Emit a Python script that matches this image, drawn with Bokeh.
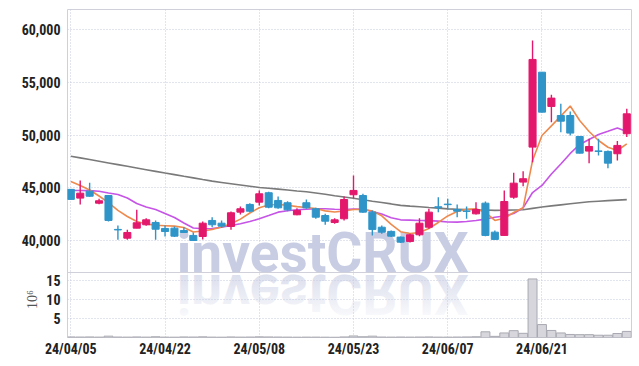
from urllib.parse import quote
from bokeh.plotting import figure
from bokeh.models import (Range1d, FixedTicker, ColumnDataSource, Grid, Span, LinearAxis)
from bokeh.core.properties import value
from bokeh.embed import file_html
from bokeh.resources import INLINE

dates = ["24/04/05", "24/04/08", "24/04/09", "24/04/11", "24/04/12", "24/04/15", "24/04/16", "24/04/17",
         "24/04/18", "24/04/19", "24/04/22", "24/04/23", "24/04/24", "24/04/25", "24/04/26", "24/04/29",
         "24/04/30", "24/05/02", "24/05/03", "24/05/07", "24/05/08", "24/05/09", "24/05/10", "24/05/13",
         "24/05/14", "24/05/16", "24/05/17", "24/05/20", "24/05/21", "24/05/22", "24/05/23", "24/05/24",
         "24/05/27", "24/05/28", "24/05/29", "24/05/30", "24/05/31", "24/06/03", "24/06/04", "24/06/05",
         "24/06/07", "24/06/10", "24/06/11", "24/06/12", "24/06/13", "24/06/14", "24/06/17", "24/06/18",
         "24/06/19", "24/06/20", "24/06/21", "24/06/24", "24/06/25", "24/06/26", "24/06/27", "24/06/28",
         "24/07/01", "24/07/02", "24/07/03", "24/07/04"]

opens = [44850, 44020, 44680, 43540, 44270, 41050, 40220, 41170, 41490, 41710,
         41140, 41170, 40950, 40480, 40380, 41900, 41640, 41330, 42690, 43420,
         43640, 44530, 43800, 43580, 42440, 43580, 43010, 42370, 41710, 42060,
         44340, 44270, 42690, 41260, 40860, 40320, 39910, 40540, 41260, 43200,
         43450, 42940, 42800, 42530, 43540, 40790, 40480, 44110, 45540, 48860,
         55970, 52720, 51860, 51860, 49870, 48480, 48500, 48450, 48230, 50130]
highs = [44870, 45690, 45480, 43960, 44300, 41420, 41020, 42910, 42120, 41900,
         41420, 41330, 41260, 40760, 41800, 42210, 41900, 42750, 43230, 43540,
         44750, 44620, 44180, 43730, 43070, 43890, 43100, 42530, 42120, 44180,
         46170, 44430, 42850, 41420, 40950, 40380, 40640, 42120, 43010, 44110,
         43960, 43420, 43230, 43640, 43700, 40950, 44750, 46430, 46580, 58980,
         56000, 53830, 52980, 52240, 49900, 49650, 49650, 48540, 49430, 52500]
lows = [43880, 43420, 44150, 43440, 41800, 40070, 40070, 41170, 41400, 40070,
        40380, 40320, 40700, 40000, 40100, 41260, 41200, 41020, 42470, 42690,
        43320, 43070, 43010, 42780, 42400, 43010, 42060, 41490, 41590, 41900,
        44000, 42630, 40480, 40640, 40320, 39750, 39810, 40410, 41110, 42690,
        42940, 42210, 42060, 42470, 40410, 40100, 40480, 43960, 45150, 47430,
        52150, 51230, 50280, 49970, 48260, 47340, 48070, 46860, 47590, 49810]
closes = [43900, 44490, 44200, 43770, 41900, 41000, 40760, 41680, 41960, 41070,
          40850, 40410, 40760, 40000, 41640, 41490, 41360, 42630, 43010, 42780,
          44430, 43160, 43100, 42910, 42850, 43100, 42210, 41830, 41960, 43890,
          44750, 42690, 41050, 40790, 40410, 39840, 40540, 41640, 42690, 43120,
          43400, 42780, 42760, 42940, 40480, 40100, 43700, 45440, 45860, 57180,
          52180, 53510, 51320, 50190, 48290, 48920, 48450, 47340, 49020, 52020]
volumes = [0.15, 0.12, 0.15, 0.10, 0.35, 0.12, 0.10, 0.15, 0.10, 0.20,
           0.10, 0.08, 0.15, 0.12, 0.18, 0.10, 0.08, 0.15, 0.10, 0.12,
           0.18, 0.15, 0.12, 0.10, 0.08, 0.10, 0.10, 0.08, 0.06, 0.15,
           0.40, 0.20, 0.35, 0.12, 0.10, 0.12, 0.10, 0.12, 0.15, 0.10,
           0.10, 0.12, 0.15, 0.20, 1.50, 0.30, 1.20, 1.80, 1.10, 15.4,
           3.40, 1.85, 1.20, 0.80, 0.75, 0.75, 0.60, 0.60, 1.05, 1.60]
ma5 = [45600, 45220, 44790, 44220, 43600, 42850, 42280, 41800, 41570, 41440,
       41400, 41360, 41230, 40800, 40900, 41040, 41280, 41580, 42030, 42610,
       43100, 43370, 43420, 43340, 43210, 43130, 43040, 42810, 42700, 42800,
       42940, 42960, 42800, 42340, 41520, 40830, 40660, 40760, 41140, 41710,
       42330, 42750, 42960, 43010, 42660, 41900, 42110, 42660, 43100, 47590,
       49960, 50880, 51800, 52760, 51390, 50340, 49490, 48850, 48540, 49160]
ma20 = [44745, 44745, 44730, 44670, 44510, 44370, 44030, 43510, 43180, 42940,
        42560, 42180, 41660, 41190, 41110, 41140, 41260, 41420, 41580, 41800,
        42060, 42370, 42690, 42820, 42910, 42970, 43010, 43010, 42960, 42940,
        42990, 42960, 42750, 42510, 42150, 41960, 41930, 41900, 41880, 41840,
        41760, 41740, 41800, 41900, 42030, 42210, 42330, 42560, 43100, 44550,
        45220, 46310, 47260, 48260, 49110, 49590, 50060, 50360, 50680, 50340]
ma120 = [48000, 47840, 47680, 47520, 47360, 47200, 47040, 46880, 46720, 46560,
         46400, 46250, 46090, 45940, 45780, 45630, 45510, 45390, 45270, 45150,
         45030, 44950, 44870, 44790, 44700, 44620, 44500, 44380, 44250, 44130,
         44000, 43870, 43730, 43600, 43470, 43330, 43260, 43200, 43130, 43070,
         43000, 42970, 42940, 42910, 42890, 42860, 42870, 42890, 42920, 43050,
         43180, 43280, 43380, 43480, 43580, 43680, 43730, 43780, 43830, 43880]
price_ticks = [40000, 45000, 50000, 55000, 60000]
vol_ticks = [5, 10, 15]
date_tick_idx = [0, 10, 20, 30, 40, 50]
watermark = "investCRUX"
vol_unit = "10⁶"

UP = "#e3186c"
DOWN = "#2f95c9"
GRID = "#c4c8dc"
OUTLINE = "#cfd0da"
WM = "#c8cde3"
TICK_FONT = "Roboto Condensed, DejaVu Sans Condensed, Roboto, sans-serif"

idx = list(range(len(dates)))
colors = [UP if c >= o else DOWN for o, c in zip(opens, closes)]
src = ColumnDataSource(dict(
    x=idx, open=opens, high=highs, low=lows, close=closes,
    top=[max(o, c) for o, c in zip(opens, closes)],
    bottom=[min(o, c) for o, c in zip(opens, closes)],
    color=colors, vol=volumes, ma5=ma5, ma20=ma20, ma120=ma120,
))

# one frame holding both panes: the price pane on top (36,960 .. 61,920),
# the volume pane below it (0 .. 17.1 million on its own range)
price_lo, price_hi = 30793, 61920
price_pane_bottom = 36960
vol_pane_top = 17.1
vol_hi = 86.29
x_range = Range1d(-0.35, 59.5)

p = figure(width=632, height=359, x_range=x_range, y_range=Range1d(price_lo, price_hi),
           output_backend="svg", toolbar_location=None,
           min_border_left=67, min_border_right=1, min_border_top=9, min_border_bottom=22)
p.extra_y_ranges = {"vol": Range1d(0, vol_hi)}
p.outline_line_color = OUTLINE
p.background_fill_color = "white"
p.border_fill_color = "white"

# left axis: price ticks for the upper pane, volume ticks for the lower pane
vol_to_price = (price_hi - price_lo) / vol_hi
vol_tick_pos = [int(round(price_lo + t * vol_to_price)) for t in vol_ticks]
p.yaxis.ticker = FixedTicker(ticks=price_ticks + vol_tick_pos)
overrides = {t: f"{t:,}" for t in price_ticks}
overrides.update({pos: str(t) for pos, t in zip(vol_tick_pos, vol_ticks)})
p.yaxis.major_label_overrides = overrides
for ax in (p.xaxis[0], p.yaxis[0]):
    ax.axis_line_color = None
    ax.major_tick_line_color = None
    ax.minor_tick_line_color = None
    ax.major_label_text_font = TICK_FONT
    ax.major_label_text_font_style = "bold"
    ax.major_label_text_font_size = "14px"
    ax.major_label_text_color = "#222222"
p.yaxis.major_label_standoff = 1
p.xaxis.ticker = FixedTicker(ticks=date_tick_idx)
p.xaxis.major_label_overrides = {i: dates[i] for i in date_tick_idx}
p.xaxis.major_tick_out = 0
p.xaxis.major_tick_in = 0
p.xaxis.major_label_standoff = 3

# unit label of the volume pane: a vertical label on an extra left axis,
# placed at the middle (10) of that pane's scale
unit_pos = 10
unit_axis = LinearAxis(y_range_name="vol", bounds=(0, vol_pane_top),
                       ticker=FixedTicker(ticks=[unit_pos]),
                       major_label_overrides={unit_pos: vol_unit},
                       major_label_orientation="vertical",
                       axis_line_color=None, major_tick_line_color=None, minor_tick_line_color=None,
                       major_tick_out=0, major_tick_in=0, minor_tick_out=0, minor_tick_in=0,
                       major_label_standoff=-22,
                       major_label_text_font="Liberation Serif", major_label_text_font_style="normal",
                       major_label_text_font_size="14px", major_label_text_color="#555555")
p.add_layout(unit_axis, "left")

p.xgrid.ticker = FixedTicker(ticks=date_tick_idx)
p.ygrid.ticker = FixedTicker(ticks=price_ticks)
p.grid.grid_line_color = GRID
p.grid.grid_line_dash = "1 2"
vgrid = Grid(dimension=1, ticker=FixedTicker(ticks=vol_ticks), y_range_name="vol",
             grid_line_color=GRID, grid_line_dash="1 2")
p.add_layout(vgrid)
p.add_layout(Span(location=price_pane_bottom, dimension="width", line_color=OUTLINE, line_width=1))

# watermark and its reflection
p.text(x=[11.25], y=[38800], text=[watermark], text_font=value("Roboto"),
       text_font_style="bold", text_font_size="55px", text_color=WM,
       text_baseline="alphabetic", text_align="left")
svg = ('<svg xmlns="http://www.w3.org/2000/svg" width="320" height="60">'
       '<defs><linearGradient id="g" x1="0" y1="0" x2="0" y2="1">'
       '<stop offset="0" stop-color="' + WM + '" stop-opacity="0"/>'
       '<stop offset="1" stop-color="' + WM + '" stop-opacity="0.8"/>'
       '</linearGradient></defs>'
       '<g transform="scale(1,-1)"><text x="0" y="-2" font-family="Roboto" font-weight="bold" '
       'font-size="55px" fill="url(#g)">' + watermark + '</text></g></svg>')
p.image_url(url=["data:image/svg+xml;charset=utf-8," + quote(svg)], x=11.25, y=price_pane_bottom,
            w=320, h=60, w_units="screen", h_units="screen", anchor="top_left")

# volume bars
p.vbar(x="x", width=0.95, top="vol", bottom=0, source=src, y_range_name="vol",
       fill_color="#d6d6dc", line_color="#a9a9b2", line_width=1)

# moving averages
p.line("x", "ma120", source=src, line_color="#7a7a7a", line_width=1.6)
p.line("x", "ma20", source=src, line_color="#c654e6", line_width=1.6)
p.line("x", "ma5", source=src, line_color="#ee8a4e", line_width=1.6)

# candles
p.segment(x0="x", y0="high", x1="x", y1="low", source=src, line_color="color", line_width=1.4)
p.vbar(x="x", width=0.75, top="top", bottom="bottom", source=src,
       fill_color="color", line_color="color", line_width=1)

open("out.html", "w").write(file_html(p, INLINE))
